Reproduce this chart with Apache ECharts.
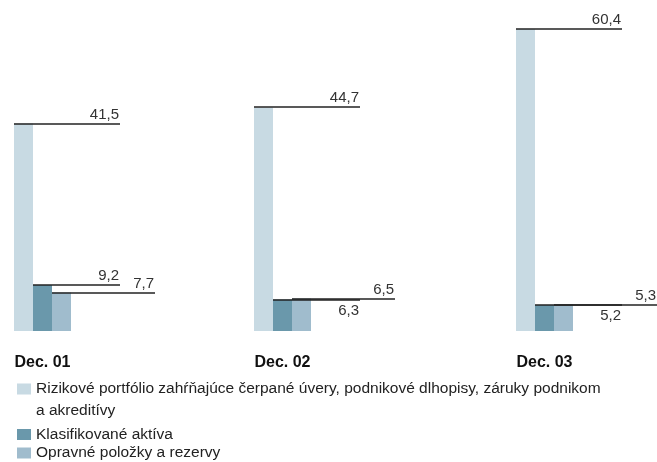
<!DOCTYPE html>
<html><head><meta charset="utf-8">
<script src="https://cdn.jsdelivr.net/npm/echarts@6/dist/echarts.min.js"></script>
<style>html,body{margin:0;padding:0;background:#fff}#chart{width:657px;height:462px}</style>
</head><body><div id="chart"></div>
<script>
const categories = ['Dec. 01', 'Dec. 02', 'Dec. 03'];
const seriesNames = [
  'Rizikové portfólio zahŕňajúce čerpané úvery, podnikové dlhopisy, záruky podnikom a akreditívy',
  'Klasifikované aktíva',
  'Opravné položky a rezervy'
];
const riskPortfolio = [41.5, 44.7, 60.4];
const classifiedAssets = [9.2, 6.3, 5.2];
const provisions = [7.7, 6.5, 5.3];

const yMax = 62;
const colors = ['#c8dae3', '#6a98ab', '#a0bccd'];
const groupLeft = [14, 254, 516];
const BAR_W = 19;
const values = [riskPortfolio, classifiedAssets, provisions];
const fmt = v => v.toFixed(1).replace('.', ',');

function renderLeader(params, api) {
  const v = api.value(1), k = api.value(2), below = api.value(3);
  const p = api.coord([0, v]);
  const left = p[0] - 1.5 * BAR_W;
  const x0 = left + k * BAR_W;
  const x1 = left + (k === 2 ? 141 : 106);
  const y = Math.round(p[1]);
  return {
    type: 'group',
    children: [
      { type: 'line', shape: { x1: x0, y1: y, x2: x1, y2: y }, style: { stroke: '#222', lineWidth: 1.6 } },
      { type: 'text', style: {
          text: fmt(v), x: x1 - 1, y: below ? y + 3 : y - 2,
          align: 'right', verticalAlign: below ? 'top' : 'bottom',
          fill: '#333', font: '15px "Liberation Sans", Arial, sans-serif'
      } }
    ]
  };
}

const grids = [], xAxes = [], yAxes = [], series = [];
categories.forEach((cat, g) => {
  grids.push({ left: groupLeft[g], width: BAR_W * 3, top: 21, bottom: 131 });
  xAxes.push({
    type: 'category', gridIndex: g, data: [cat],
    axisLine: { show: false }, axisTick: { show: false }, splitLine: { show: false },
    axisLabel: { margin: 24, color: '#111', fontFamily: 'Liberation Sans', fontWeight: 'bold', fontSize: 16 }
  });
  yAxes.push({ type: 'value', gridIndex: g, min: 0, max: yMax, show: false });
  values.forEach((vals, k) => {
    series.push({
      type: 'bar', name: seriesNames[k], xAxisIndex: g, yAxisIndex: g,
      data: [vals[g]], barWidth: BAR_W, barGap: '0%',
      itemStyle: { color: colors[k] }, z: 2, silent: true
    });
  });
  series.push({
    type: 'custom', name: 'labels' + g, xAxisIndex: g, yAxisIndex: g, z: 5, silent: true,
    encode: { x: 0, y: 1 },
    data: values.map((vals, k) => [0, vals[g], k, (k === 1 && provisions[g] > classifiedAssets[g]) ? 1 : 0]),
    renderItem: renderLeader
  });
});

const legendBase = {
  orient: 'vertical', left: 17, itemWidth: 14, itemHeight: 11, itemGap: 0,
  selectedMode: false, padding: 0, icon: 'rect'
};
const legendText = { fontFamily: 'Liberation Sans', fontSize: 15.5, color: '#222' };

const option = {
  animation: false,
  grid: grids, xAxis: xAxes, yAxis: yAxes, series: series,
  legend: [
    Object.assign({}, legendBase, {
      top: 378, itemHeight: 33,
      icon: 'path://M0,0H14V11H0Z M0,33L0.01,33L0,33Z',
      data: [seriesNames[0]],
      formatter: n => n.replace(' podnikom a ', ' podnikom\na '),
      textStyle: Object.assign({}, legendText, { lineHeight: 22 })
    }),
    Object.assign({}, legendBase, {
      top: 426.5, data: [seriesNames[1]],
      textStyle: Object.assign({}, legendText, { lineHeight: 11 })
    }),
    Object.assign({}, legendBase, {
      top: 445, data: [seriesNames[2]],
      textStyle: Object.assign({}, legendText, { lineHeight: 11 })
    })
  ]
};
const chart = echarts.init(document.getElementById('chart'), null, { renderer: 'canvas' });
chart.setOption(option);
</script></body></html>
